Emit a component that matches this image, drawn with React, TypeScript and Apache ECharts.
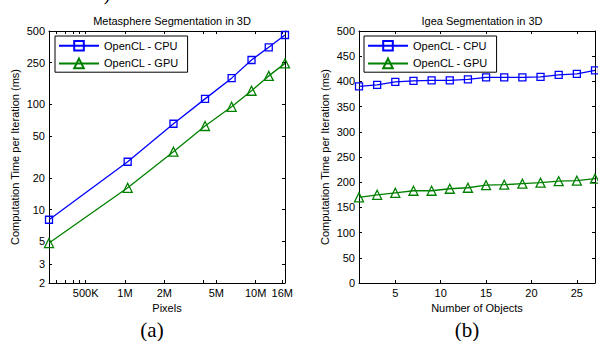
import React, { useEffect, useRef } from "react";
import * as echarts from "echarts";

// ---- Data: (a) Metasphere Segmentation in 3D ----
const pixels = [262144, 1048576, 2350000, 4100000, 6550000, 9300000, 12600000, 16777216];
const cpuA = [8, 28.5, 65.5, 113, 178, 265, 350, 458];
const gpuA = [4.8, 16.1, 35.5, 62.4, 95, 135, 187, 246];
const xTicksA = [300000, 350000, 400000, 450000, 500000, 1000000, 2000000, 4000000, 5000000, 10000000, 16000000];
const xLabelsA = [500000, 1000000, 2000000, 5000000, 10000000, 16000000];
const yTicksA = [2, 3, 5, 10, 20, 50, 100, 250, 500];

// ---- Data: (b) Igea Segmentation in 3D ----
const objects = [1, 3, 5, 7, 9, 11, 13, 15, 17, 19, 21, 23, 25, 27];
const cpuB = [390, 393, 399, 401, 402, 402, 404, 408, 408, 408, 409, 413, 415, 422];
const gpuB = [170, 175, 179, 183, 183, 187, 189, 194, 195, 197, 199, 202, 203, 207];
const xTicksB = [5, 10, 15, 20, 25];

const BLUE = "#0000ff";
const GREEN = "#008000";
const FONT = "Liberation Sans, Arial, sans-serif";
const SERIF = "Liberation Serif, Times New Roman, serif";

const fmtPix = (v: number) => (v >= 1e6 ? Math.round(v / 1e6) + "M" : Math.round(v / 1e3) + "K");

export default function App() {
  const ref = useRef<HTMLDivElement>(null);
  useEffect(() => {
    const chart = echarts.init(ref.current!, null, { renderer: "svg" });
    const axisBase = {
      axisLine: { show: true, onZero: false, lineStyle: { color: "#000", width: 1 } },
      splitLine: { show: false },
      axisLabel: { color: "#000", fontSize: 11, fontFamily: FONT, margin: 4 },
      nameTextStyle: { color: "#000", fontSize: 11, fontFamily: FONT },
    };
    const tick = (vals?: number[]) => ({
      show: true,
      inside: true,
      length: 3,
      lineStyle: { color: "#000", width: 1 },
      ...(vals ? { customValues: vals } : {}),
    });
    const legendBase = {
      orient: "vertical" as const,
      borderColor: "#000",
      borderWidth: 1,
      backgroundColor: "#fff",
      padding: [4, 9, 3, 3],
      itemGap: 6,
      itemWidth: 40,
      itemHeight: 12,
      textStyle: { color: "#000", fontSize: 11, fontFamily: FONT },
      data: ["OpenCL - CPU", "OpenCL - GPU"],
      selectedMode: false,
    };
    const cpuStyle = {
      type: "line" as const,
      name: "OpenCL - CPU",
      symbol: "rect",
      symbolSize: 7,
      color: BLUE,
      lineStyle: { color: BLUE, width: 1.3 },
      itemStyle: { color: "rgba(255,255,255,0)", borderColor: BLUE, borderWidth: 1.3 },
    };
    const gpuStyle = {
      type: "line" as const,
      name: "OpenCL - GPU",
      symbol: "triangle",
      symbolSize: 9,
      color: GREEN,
      lineStyle: { color: GREEN, width: 1.3 },
      itemStyle: { color: "rgba(255,255,255,0)", borderColor: GREEN, borderWidth: 1.3 },
    };
    chart.setOption({
      animation: false,
      backgroundColor: "#fff",
      title: [
        {
          text: "Metasphere Segmentation in 3D",
          left: 167,
          top: 10,
          textAlign: "center",
          textStyle: { fontSize: 11, fontWeight: "normal", color: "#000", fontFamily: FONT },
        },
        {
          text: "Igea Segmentation in 3D",
          left: 477,
          top: 10,
          textAlign: "center",
          textStyle: { fontSize: 11, fontWeight: "normal", color: "#000", fontFamily: FONT },
        },
      ],
      legend: [
        { ...legendBase, left: 55, top: 36 },
        { ...legendBase, left: 364, top: 36 },
      ],
      grid: [
        { left: 49, top: 31, width: 236, height: 252 },
        { left: 359, top: 31, width: 236, height: 252 },
      ],
      xAxis: [
        {
          ...axisBase,
          type: "log",
          gridIndex: 0,
          min: pixels[0],
          max: pixels[pixels.length - 1],
          name: "Pixels",
          nameLocation: "middle",
          nameGap: 19,
          axisTick: tick(xTicksA),
          axisLabel: { ...axisBase.axisLabel, customValues: xLabelsA, formatter: (v: number) => fmtPix(v) },
          minorTick: { show: false },
        },
        {
          ...axisBase,
          type: "log",
          gridIndex: 0,
          position: "top",
          min: pixels[0],
          max: pixels[pixels.length - 1],
          axisTick: tick(xTicksA),
          axisLabel: { show: false },
        },
        {
          ...axisBase,
          type: "value",
          gridIndex: 1,
          min: objects[0],
          max: objects[objects.length - 1],
          name: "Number of Objects",
          nameLocation: "middle",
          nameGap: 19,
          axisTick: tick(xTicksB),
          axisLabel: { ...axisBase.axisLabel, customValues: xTicksB },
        },
        {
          ...axisBase,
          type: "value",
          gridIndex: 1,
          position: "top",
          min: objects[0],
          max: objects[objects.length - 1],
          axisTick: tick(xTicksB),
          axisLabel: { show: false },
        },
      ],
      yAxis: [
        {
          ...axisBase,
          type: "log",
          gridIndex: 0,
          min: 2,
          max: 500,
          name: "Computation Time per Iteration (ms)",
          nameLocation: "middle",
          nameGap: 29,
          axisTick: tick(yTicksA),
          axisLabel: { ...axisBase.axisLabel, customValues: yTicksA, formatter: (v: number) => String(Math.round(v)) },
        },
        {
          ...axisBase,
          type: "log",
          gridIndex: 0,
          position: "right",
          min: 2,
          max: 500,
          axisTick: tick(yTicksA),
          axisLabel: { show: false },
        },
        {
          ...axisBase,
          type: "value",
          gridIndex: 1,
          min: 0,
          max: 500,
          interval: 50,
          name: "Computation Time per Iteration (ms)",
          nameLocation: "middle",
          nameGap: 29,
          axisTick: tick(),
        },
        {
          ...axisBase,
          type: "value",
          gridIndex: 1,
          position: "right",
          min: 0,
          max: 500,
          interval: 50,
          axisTick: tick(),
          axisLabel: { show: false },
        },
      ],
      series: [
        { ...cpuStyle, xAxisIndex: 0, yAxisIndex: 0, data: pixels.map((p, i) => [p, cpuA[i]]) },
        { ...gpuStyle, xAxisIndex: 0, yAxisIndex: 0, data: pixels.map((p, i) => [p, gpuA[i]]) },
        { ...cpuStyle, xAxisIndex: 2, yAxisIndex: 2, data: objects.map((o, i) => [o, cpuB[i]]) },
        { ...gpuStyle, xAxisIndex: 2, yAxisIndex: 2, data: objects.map((o, i) => [o, gpuB[i]]) },
      ],
      graphic: [
        {
          type: "text",
          x: 0,
          y: -17,
          style: { text: "es or 16 total).", fontSize: 20, fontFamily: SERIF, fill: "#000" },
        },
        {
          type: "text",
          x: 152,
          y: 330,
          style: { text: "(a)", fontSize: 21, fontFamily: SERIF, fill: "#000", textAlign: "center", textVerticalAlign: "middle" },
        },
        {
          type: "text",
          x: 467,
          y: 330,
          style: { text: "(b)", fontSize: 21, fontFamily: SERIF, fill: "#000", textAlign: "center", textVerticalAlign: "middle" },
        },
      ],
    });
    return () => chart.dispose();
  }, []);
  return <div ref={ref} style={{ position: "fixed", left: 0, top: 0, width: 598, height: 341 }} />;
}
